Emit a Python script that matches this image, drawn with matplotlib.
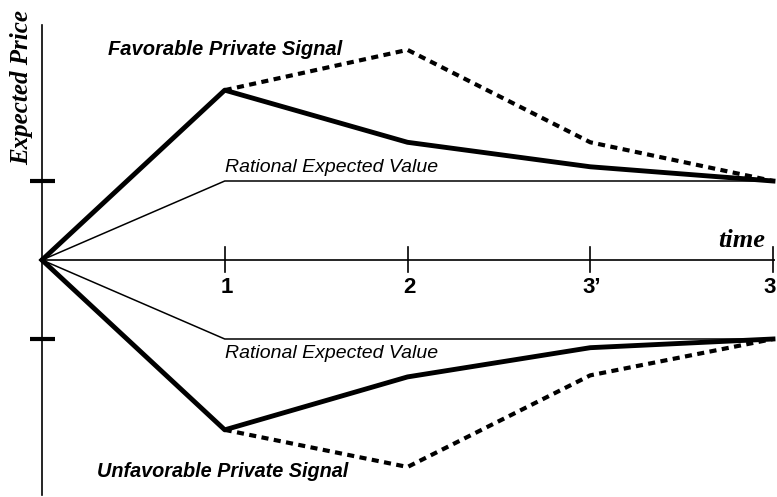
import matplotlib
matplotlib.use("Agg")
import matplotlib.pyplot as plt

# Data
t_points = [0, 1, 2, 3, 4]
tick_labels = ["1", "2", "3\u2019", "3"]
rational_value = 1.0
fav_solid = [0.0, 2.15, 1.49, 1.18, 1.0]
fav_dashed = [2.15, 2.66, 1.49, 1.0]
unfav_solid = [0.0, -2.15, -1.48, -1.11, -1.0]
unfav_dashed = [-2.15, -2.62, -1.46, -1.0]
rational_up = [0.0, 1.0, 1.0]
rational_down = [0.0, -1.0, -1.0]
rational_t = [0, 1, 4]

fig = plt.figure(figsize=(7.77, 4.97), dpi=100)
ax = fig.add_axes([0, 0, 1, 1])
ax.set_xlim(-42 / 182.75, (777 - 42) / 182.75)
ax.set_ylim((260 - 497) / 79, 260 / 79)
ax.axis("off")

# Axes lines
ax.plot([0, 4.01], [0, 0], color="black", lw=1.2, solid_capstyle="butt")
ax.plot([0, 0], [(260 - 25) / 79, (260 - 495) / 79], color="black", lw=1.2)

# x ticks
n = len(tick_labels)
for i, (t, lab) in enumerate(zip(t_points[1:], tick_labels)):
    ax.plot([t, t], [0.17, -0.15], color="black", lw=1.2)
    if i == n - 1:
        ax.text(t + 0.017, -0.22, lab, ha="right", va="top", fontsize=16,
                fontweight="bold", family="Liberation Sans")
    else:
        ax.text(t + 0.01, -0.22, lab, ha="center", va="top", fontsize=16,
                fontweight="bold", family="Liberation Sans")

# y ticks
for v in (rational_value, -rational_value):
    ax.plot([-0.066, 0.071], [v, v], color="black", lw=3, solid_capstyle="butt")

# Rational expected value lines
ax.plot(rational_t, rational_up, color="black", lw=1.1)
ax.plot(rational_t, rational_down, color="black", lw=1.1)

# Signal lines
ax.plot(t_points, fav_solid, color="black", lw=3.5, solid_joinstyle="round")
ax.plot(t_points[1:], fav_dashed, color="black", lw=3.0, dashes=(1.7, 1.3))
ax.plot(t_points, unfav_solid, color="black", lw=3.5, solid_joinstyle="round")
ax.plot(t_points[1:], unfav_dashed, color="black", lw=3.0, dashes=(1.7, 1.3))

# Text labels
ax.text(0.36, 2.66, "Favorable Private Signal", fontsize=14.5, fontweight="bold",
        style="italic", family="Liberation Sans", ha="left", va="center")
ax.text(0.30, -2.68, "Unfavorable Private Signal", fontsize=14.3, fontweight="bold",
        style="italic", family="Liberation Sans", ha="left", va="center")
ax.text(1.0, 1.06, "Rational Expected Value", fontsize=14, style="italic",
        family="Liberation Sans", ha="left", va="bottom")
ax.text(1.0, -1.08, "Rational Expected Value", fontsize=14, style="italic",
        family="Liberation Sans", ha="left", va="top")
ax.text(-0.109, 2.18, "Expected Price", fontsize=18, fontweight="bold", style="italic",
        family="Liberation Serif", rotation=90, ha="center", va="center")
ax.text(3.96, 0.25, "time", fontsize=19, fontweight="bold", style="italic",
        family="Liberation Serif", ha="right", va="center")

fig.savefig("out.png", dpi=100)
